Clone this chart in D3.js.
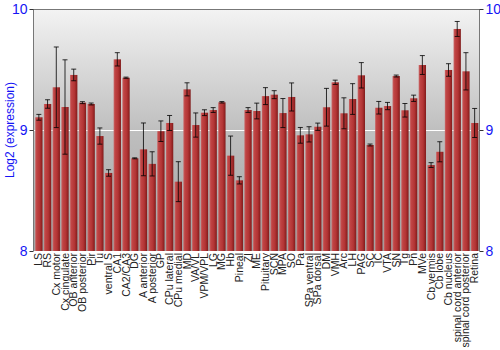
<!DOCTYPE html>
<html>
<head>
  <meta charset="utf-8">
  <title>Log2 expression by region</title>
  <style>
    body { margin: 0; background: #fff; }
    text { font-family: "Liberation Sans", Arial, sans-serif; }
  </style>
</head>
<body>
  <svg width="500" height="350"></svg>
  <script src="https://d3js.org/d3.v7.min.js"></script>
  <script>
    // Data
    const regions = ["LS", "RS", "Cx motor", "Cx cingulate", "OB anterior", "OB posterior", "Pir", "Tu",
      "ventral S", "CA1", "CA2/CA3", "DG", "A anterior", "A posterior", "GP", "CPu lateral", "CPu medial",
      "MD", "VA/VL", "VPM/VPL", "LG", "MG", "Hb", "Pineal", "ZI", "ME", "Pituitary", "SCN", "MPA", "SO",
      "Pa", "SPa ventral", "SPa dorsal", "DM", "VMH", "Arc", "LH", "PAG", "SC", "IC", "VTA", "SN", "Tg",
      "Pn", "MVe", "Cb vermis", "Cb lobe", "Cb nucleus", "spinal cord anterior", "spinal cord posterior", "Retina"];

    const expression = [9.105, 9.215, 9.353, 9.19, 9.455, 9.226, 9.215, 8.95,
      8.645, 9.584, 9.432, 8.766, 8.84, 8.72, 8.99, 9.058, 8.573,
      9.336, 9.041, 9.143, 9.165, 9.229, 8.788, 8.584, 9.165, 9.157, 9.28, 9.292, 9.14, 9.273,
      8.956, 8.964, 9.027, 9.188, 9.394, 9.138, 9.256, 9.452, 8.876, 9.184, 9.198, 9.446, 9.163,
      9.262, 9.537, 8.71, 8.82, 9.496, 9.835, 9.485, 9.058];

    const errors = [0.024, 0.035, 0.333, 0.39, 0.048, 0.008, 0.008, 0.067,
      0.027, 0.055, 0.005, 0.004, 0.218, 0.10, 0.085, 0.062, 0.165,
      0.054, 0.10, 0.024, 0.02, 0.006, 0.162, 0.03, 0.02, 0.065, 0.07, 0.033, 0.12, 0.116,
      0.065, 0.063, 0.03, 0.156, 0.018, 0.128, 0.127, 0.105, 0.008, 0.052, 0.03, 0.008, 0.056,
      0.026, 0.078, 0.02, 0.083, 0.052, 0.062, 0.154, 0.12];

    const yTicks = [8, 9, 10];

    const data = regions.map((r, i) => ({ name: r, value: expression[i], err: errors[i] }));

    const svg = d3.select("svg");
    const mLeft = 34, mRight = 479, mTop = 9, mBottom = 251;

    const x = d3.scaleBand()
      .domain(regions)
      .range([mLeft + 0.5, mRight])
      .paddingInner(0.16)
      .paddingOuter(0.08);

    const y = d3.scaleLinear()
      .domain([8, 10])
      .range([mBottom, mTop]);

    // gradients
    const defs = svg.append("defs");
    const bg = defs.append("linearGradient")
      .attr("id", "bg").attr("x1", 0).attr("y1", 0).attr("x2", 0).attr("y2", 1);
    bg.append("stop").attr("offset", "0%").attr("stop-color", "#f3f3f3");
    bg.append("stop").attr("offset", "50%").attr("stop-color", "#bfbfbf");
    bg.append("stop").attr("offset", "100%").attr("stop-color", "#a2a2a2");

    const barGrad = defs.append("linearGradient")
      .attr("id", "bar").attr("x1", 0).attr("y1", 0).attr("x2", 1).attr("y2", 0);
    barGrad.append("stop").attr("offset", "0%").attr("stop-color", "#c96a6a");
    barGrad.append("stop").attr("offset", "20%").attr("stop-color", "#c04444");
    barGrad.append("stop").attr("offset", "60%").attr("stop-color", "#b33535");
    barGrad.append("stop").attr("offset", "85%").attr("stop-color", "#962424");
    barGrad.append("stop").attr("offset", "100%").attr("stop-color", "#7e1c1c");

    // plot background
    svg.append("rect")
      .attr("x", mLeft).attr("y", mTop)
      .attr("width", mRight - mLeft).attr("height", mBottom - mTop)
      .attr("fill", "url(#bg)");

    // white gridline at 9
    svg.append("line")
      .attr("x1", mLeft).attr("x2", mRight)
      .attr("y1", Math.round(y(9)) + 0.5).attr("y2", Math.round(y(9)) + 0.5)
      .attr("stroke", "#fff").attr("stroke-width", 1.2);

    // bars
    svg.append("g")
      .selectAll("rect")
      .data(data)
      .join("rect")
      .attr("x", d => x(d.name))
      .attr("y", d => y(d.value))
      .attr("width", x.bandwidth())
      .attr("height", d => y(8) - y(d.value))
      .attr("fill", "url(#bar)");

    // error bars
    const eb = svg.append("g")
      .attr("stroke", "#000")
      .attr("stroke-opacity", 0.8)
      .attr("stroke-width", 1)
      .selectAll("g")
      .data(data)
      .join("g");

    const cx = d => x(d.name) + x.bandwidth() / 2;

    eb.append("line")
      .attr("x1", cx).attr("x2", cx)
      .attr("y1", d => y(d.value + d.err))
      .attr("y2", d => y(d.value - d.err));

    eb.append("line")
      .attr("x1", d => cx(d) - 2.5).attr("x2", d => cx(d) + 2.5)
      .attr("y1", d => y(d.value + d.err))
      .attr("y2", d => y(d.value + d.err));

    eb.append("line")
      .attr("x1", d => cx(d) - 2.5).attr("x2", d => cx(d) + 2.5)
      .attr("y1", d => y(d.value - d.err))
      .attr("y2", d => y(d.value - d.err));

    // frame lines
    svg.append("line")
      .attr("x1", mLeft).attr("x2", mRight).attr("y1", mTop + 0.5).attr("y2", mTop + 0.5)
      .attr("stroke", "#777");
    svg.append("line")
      .attr("x1", mLeft - 0.5).attr("x2", mLeft - 0.5).attr("y1", mTop).attr("y2", mBottom)
      .attr("stroke", "#777");
    svg.append("line")
      .attr("x1", mRight + 0.5).attr("x2", mRight + 0.5).attr("y1", mTop).attr("y2", mBottom)
      .attr("stroke", "#777");

    // left and right axes
    const axisL = svg.append("g")
      .attr("transform", `translate(${mLeft - 0.5},0)`)
      .call(d3.axisLeft(y).tickValues(yTicks).tickSize(4).tickPadding(2).tickFormat(d3.format("d")));
    const axisR = svg.append("g")
      .attr("transform", `translate(${mRight + 0.5},0)`)
      .call(d3.axisRight(y).tickValues(yTicks).tickSize(4).tickPadding(2).tickFormat(d3.format("d")));

    [axisL, axisR].forEach(a => {
      a.select(".domain").remove();
      a.selectAll(".tick line").attr("stroke", "#333");
      a.selectAll(".tick text")
        .attr("fill", "#1515f5")
        .style("font-size", "14px")
        .style("font-family", "'Liberation Sans', Arial, sans-serif");
    });

    // category labels
    svg.append("g")
      .selectAll("text")
      .data(data)
      .join("text")
      .attr("transform", d => `translate(${cx(d) + 3.5},${mBottom + 2}) rotate(-90)`)
      .attr("text-anchor", "end")
      .attr("fill", "#222")
      .style("font-size", "10.5px")
      .text(d => d.name);

    // y axis title
    svg.append("text")
      .attr("transform", `translate(14,${(mTop + mBottom) / 2}) rotate(-90)`)
      .attr("text-anchor", "middle")
      .attr("fill", "#1515f5")
      .style("font-size", "12px")
      .text("Log2 (expression)");
  </script>
</body>
</html>
